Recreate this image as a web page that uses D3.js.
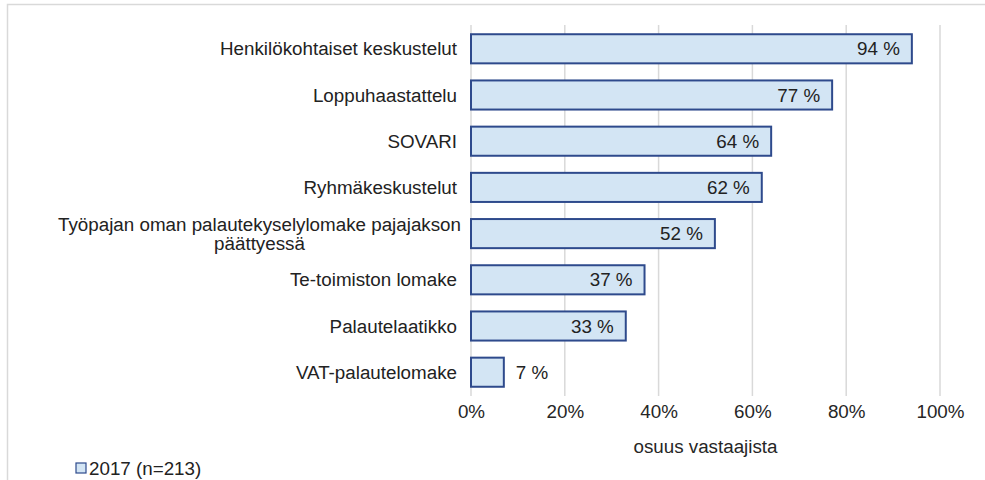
<!DOCTYPE html>
<html>
<head>
<meta charset="utf-8">
<script src="https://cdn.jsdelivr.net/npm/d3@7"></script>
<style>
  body { margin: 0; background: #fff; }
  svg { font-family: "Liberation Sans", Arial, sans-serif; }
</style>
</head>
<body>
<div id="chart"></div>
<script>
// data
var categories = [
  ["Henkilökohtaiset keskustelut"],
  ["Loppuhaastattelu"],
  ["SOVARI"],
  ["Ryhmäkeskustelut"],
  ["Työpajan oman palautekyselylomake pajajakson", "päättyessä"],
  ["Te-toimiston lomake"],
  ["Palautelaatikko"],
  ["VAT-palautelomake"]
];
var values = [94, 77, 64, 62, 52, 37, 33, 7];
var ticks = [0, 20, 40, 60, 80, 100];
var seriesName = "2017 (n=213)";
var axisTitle = "osuus vastaajista";

var fs = 18.8;
var svgWidth = 985, svgHeight = 480;
var margin = {top: 25, right: 45, bottom: 84, left: 471};
var width = svgWidth - margin.left - margin.right;
var height = svgHeight - margin.top - margin.bottom;

var svg = d3.select("#chart").append("svg")
    .attr("width", svgWidth)
    .attr("height", svgHeight);

// outer frame (partly cropped in the original)
svg.append("path")
    .attr("d", "M7.5," + svgHeight + " V4.5 H" + svgWidth)
    .attr("fill", "none")
    .attr("stroke", "#d9d9d9")
    .attr("stroke-width", 1.5);

var chartGroup = svg.append("g")
    .attr("transform", `translate(${margin.left}, ${margin.top})`);

var x = d3.scaleLinear().domain([0, 100]).range([0, width]);
var y = d3.scaleBand()
    .domain(d3.range(values.length))
    .range([0, height])
    .paddingInner(0.37)
    .paddingOuter(0.2);

// gridlines
chartGroup.append("g")
    .selectAll("line")
    .data(ticks)
    .join("line")
    .attr("x1", d => x(d)).attr("x2", d => x(d))
    .attr("y1", 0).attr("y2", height)
    .attr("stroke", "#d9d9d9")
    .attr("stroke-width", 1.5);

// x axis labels
var bottomAxis = d3.axisBottom(x).tickValues(ticks).tickFormat(d => d + "%").tickSize(0).tickPadding(9);
var xAxis = chartGroup.append("g")
    .attr("transform", `translate(0, ${height})`)
    .call(bottomAxis);
xAxis.select(".domain").remove();
xAxis.selectAll("text")
    .attr("font-size", fs)
    .attr("font-family", "Liberation Sans, Arial, sans-serif")
    .attr("fill", "#262626");

chartGroup.append("text")
    .attr("x", x(50))
    .attr("y", height + 57)
    .attr("text-anchor", "middle")
    .attr("font-size", fs)
    .attr("fill", "#262626")
    .text(axisTitle);

// bars
chartGroup.selectAll(".bar")
    .data(values)
    .join("rect")
    .attr("class", "bar")
    .attr("x", x(0))
    .attr("y", (d, i) => y(i))
    .attr("width", d => x(d) - x(0))
    .attr("height", y.bandwidth())
    .attr("fill", "#d3e5f4")
    .attr("stroke", "#2e4a8c")
    .attr("stroke-width", 2);

// value labels
chartGroup.selectAll(".val")
    .data(values)
    .join("text")
    .attr("class", "val")
    .attr("x", d => d > 15 ? x(d) - 12 : x(d) + 12)
    .attr("y", (d, i) => y(i) + y.bandwidth() / 2)
    .attr("dy", "0.35em")
    .attr("text-anchor", d => d > 15 ? "end" : "start")
    .attr("font-size", fs)
    .attr("fill", "#222")
    .text(d => d + " %");

// category labels
var labelGroup = chartGroup.append("g");
categories.forEach(function(lines, i) {
  var cy = y(i) + y.bandwidth() / 2;
  var t = labelGroup.append("text")
      .attr("font-size", fs)
      .attr("fill", "#222")
      .attr("text-anchor", "end")
      .attr("x", -14)
      .attr("y", cy)
      .attr("dy", "0.35em")
      .text(lines[0]);
  if (lines.length > 1) {
    var w = t.node().getComputedTextLength();
    var mid = -10 - w / 2;
    t.remove();
    labelGroup.append("text")
      .attr("font-size", fs)
      .attr("fill", "#222")
      .attr("text-anchor", "middle")
      .selectAll("tspan")
      .data(lines)
      .join("tspan")
      .attr("x", mid)
      .attr("y", (d, j) => cy + (j - (lines.length - 1) / 2) * 19)
      .attr("dy", "0.35em")
      .text(d => d);
  }
});

// legend
var legend = svg.append("g").attr("transform", "translate(76, 468)");
legend.append("rect")
    .attr("x", 0).attr("y", -5)
    .attr("width", 10).attr("height", 10)
    .attr("fill", "#d3e5f4")
    .attr("stroke", "#2e4a8c")
    .attr("stroke-width", 1.2);
legend.append("text")
    .attr("x", 13)
    .attr("y", 0)
    .attr("dy", "0.35em")
    .attr("font-size", fs)
    .attr("fill", "#222")
    .text(seriesName);
</script>
</body>
</html>
